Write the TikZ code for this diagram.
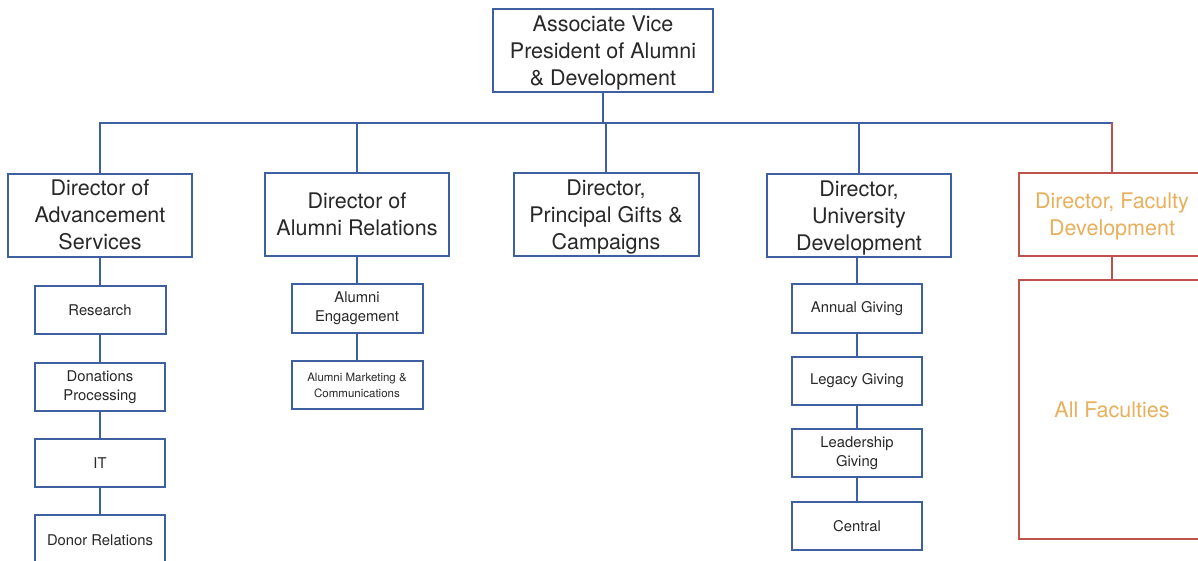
\documentclass[tikz,border=0pt]{standalone}
\usepackage{fontspec}
\setmainfont{TeX Gyre Heros}
\definecolor{lineblue}{RGB}{62,96,160}
\definecolor{linered}{RGB}{192,82,78}
\definecolor{txt}{RGB}{40,40,40}
\definecolor{orangetxt}{RGB}{232,176,92}
\begin{document}
\begin{tikzpicture}[x=1pt,y=-1pt,
  box/.style={draw=lineblue,line width=2pt,fill=white,text=txt,align=center,inner sep=0pt},
  bigbox/.style={box,minimum width=184pt,minimum height=83pt,text depth=0pt,font=\fontsize{21.5}{27}\selectfont},
  smallbox/.style={box,minimum width=130pt,minimum height=48pt,font=\fontsize{14.8}{19}\selectfont},
  redbox/.style={box,draw=linered,text=orangetxt},
  conn/.style={draw=lineblue,line width=2pt},
  redconn/.style={draw=linered,line width=2pt}]
\useasboundingbox (0,0) rectangle (1198,560);
\fill[white] (0,0) rectangle (1198,560);

% top
\node[bigbox,minimum width=220pt] (avp) at (603,50.5) {Associate Vice\\President of Alumni\\\& Development};
\coordinate (bus) at (603,123);

% directors
\node[bigbox] (adv) at (100,215) {Director of\\Advancement\\Services};
\node[bigbox] (alu) at (357,214.5) {Director of\\Alumni Relations};
\node[bigbox,minimum width=185pt] (pgc) at (606,214.5) {Director,\\Principal Gifts \&\\Campaigns};
\node[bigbox] (uni) at (859,215.5) {Director,\\University\\Development};
\node[bigbox,redbox,minimum width=186pt] (fac) at (1112,214) {Director, Faculty\\Development};

% advancement services column
\node[smallbox,minimum width=131pt] (res) at (100,310) {Research};
\node[smallbox] (don) at (100,387) {Donations\\Processing};
\node[smallbox] (it) at (100,463) {IT};
\node[smallbox,minimum height=50pt] (dr) at (100,540) {Donor Relations};

% alumni relations column
\node[smallbox,minimum width=131pt,minimum height=49pt] (eng) at (357,308.5) {Alumni\\Engagement};
\node[smallbox,minimum width=131pt,font=\fontsize{11.5}{16}\selectfont] (mkt) at (357,385) {Alumni Marketing \&\\Communications};

% university development column
\node[smallbox,minimum height=49pt] (ann) at (857,308.5) {Annual Giving};
\node[smallbox] (leg) at (857,381) {Legacy Giving};
\node[smallbox] (lead) at (857,453) {Leadership\\Giving};
\node[smallbox] (cen) at (857,526) {Central};

% all faculties
\node[box,redbox,minimum width=186pt,minimum height=259pt,font=\fontsize{21.5}{27}\selectfont] (all) at (1112,409.5) {All Faculties};

% connectors
\draw[conn] (avp.south) -- (bus);
\draw[conn,line cap=rect] (adv.north |- bus) -- (fac.north |- bus);
\draw[conn] (adv.north |- bus) -- (adv.north);
\draw[conn] (alu.north |- bus) -- (alu.north);
\draw[conn] (pgc.north |- bus) -- (pgc.north);
\draw[conn] (uni.north |- bus) -- (uni.north);
\draw[redconn] (fac.north |- bus) -- (fac.north);

\draw[conn] (adv.south) -- (res.north);
\draw[conn] (res.south) -- (don.north);
\draw[conn] (don.south) -- (it.north);
\draw[conn] (it.south) -- (dr.north);

\draw[conn] (alu.south) -- (eng.north);
\draw[conn] (eng.south) -- (mkt.north);

\draw[conn] (uni.south -| ann.north) -- (ann.north);
\draw[conn] (ann.south) -- (leg.north);
\draw[conn] (leg.south) -- (lead.north);
\draw[conn] (lead.south) -- (cen.north);

\draw[redconn] (fac.south) -- (all.north);
\end{tikzpicture}
\end{document}
